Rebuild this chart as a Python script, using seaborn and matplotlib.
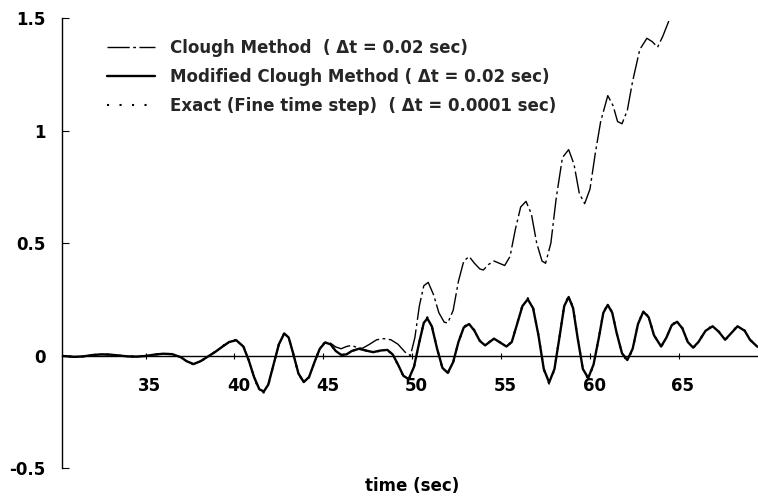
import numpy as np
import pandas as pd
import matplotlib
matplotlib.use("Agg")
import matplotlib.pyplot as plt
import matplotlib.transforms as mtrans
import seaborn as sns

# ---------------- data ----------------
time_modified = [30.0, 30.5, 31.0, 31.5, 32.0, 32.5, 33.0, 33.5, 34.0, 34.5, 35.0, 35.5,
                 36.0, 36.5, 37.0, 37.3, 37.7, 38.1, 38.5, 38.9, 39.3, 39.7, 40.1, 40.5,
                 40.8, 41.1, 41.4, 41.65, 41.9, 42.2, 42.5, 42.8, 43.05, 43.3, 43.6, 43.9,
                 44.2, 44.5, 44.8, 45.1, 45.4, 45.7, 46.0, 46.3, 46.6, 47.0, 47.4, 47.8,
                 48.2, 48.6, 48.9, 49.2, 49.5, 49.8, 50.1, 50.4, 50.65, 50.85, 51.1, 51.4,
                 51.7, 52.0, 52.3, 52.6, 52.9, 53.2, 53.5, 53.8, 54.1, 54.35, 54.6, 54.9,
                 55.3, 55.6, 55.9, 56.2, 56.5, 56.8, 57.1, 57.4, 57.7, 58.0, 58.3, 58.55,
                 58.8, 59.05, 59.3, 59.6, 59.9, 60.2, 60.5, 60.75, 61.0, 61.25, 61.5, 61.8,
                 62.1, 62.4, 62.7, 63.0, 63.3, 63.6, 64.0, 64.3, 64.6, 64.9, 65.2, 65.5,
                 65.8, 66.1, 66.5, 66.9, 67.25, 67.6, 67.95, 68.3, 68.7, 69.0, 69.4, 69.5]
disp_modified = [0.000, -0.003, -0.006, -0.004, 0.002, 0.005, 0.004, 0.000, -0.004, -0.005, -0.002, 0.004,
                 0.008, 0.006, -0.008, -0.025, -0.038, -0.025, -0.005, 0.015, 0.038, 0.060, 0.068, 0.040,
                 -0.020, -0.095, -0.150, -0.160, -0.130, -0.040, 0.050, 0.098, 0.080, 0.010, -0.080, -0.118,
                 -0.095, -0.030, 0.030, 0.058, 0.050, 0.020, 0.003, 0.005, 0.020, 0.030, 0.022, 0.015,
                 0.022, 0.025, 0.005, -0.040, -0.090, -0.105, -0.050, 0.060, 0.145, 0.165, 0.130, 0.030,
                 -0.055, -0.077, -0.030, 0.060, 0.125, 0.140, 0.110, 0.065, 0.045, 0.060, 0.075, 0.060,
                 0.040, 0.060, 0.140, 0.220, 0.250, 0.210, 0.090, -0.060, -0.120, -0.060, 0.090, 0.220,
                 0.260, 0.210, 0.080, -0.060, -0.100, -0.040, 0.080, 0.190, 0.225, 0.190, 0.100, 0.010,
                 -0.020, 0.030, 0.140, 0.195, 0.170, 0.090, 0.040, 0.080, 0.135, 0.150, 0.120, 0.060,
                 0.035, 0.060, 0.110, 0.130, 0.105, 0.070, 0.100, 0.130, 0.110, 0.070, 0.040, 0.038]

disp_exact = [0.000, -0.003, -0.006, -0.004, 0.002, 0.005, 0.004, 0.000, -0.004, -0.005, -0.002, 0.004,
              0.008, 0.006, -0.008, -0.026, -0.040, -0.026, -0.005, 0.016, 0.040, 0.062, 0.070, 0.042,
              -0.020, -0.098, -0.155, -0.165, -0.133, -0.040, 0.052, 0.100, 0.082, 0.010, -0.082, -0.120,
              -0.097, -0.030, 0.031, 0.060, 0.052, 0.020, 0.002, 0.004, 0.020, 0.030, 0.022, 0.014,
              0.021, 0.024, 0.004, -0.042, -0.092, -0.108, -0.052, 0.060, 0.148, 0.170, 0.133, 0.030,
              -0.057, -0.080, -0.031, 0.060, 0.127, 0.143, 0.112, 0.066, 0.046, 0.061, 0.077, 0.061,
              0.040, 0.061, 0.142, 0.223, 0.255, 0.213, 0.090, -0.062, -0.125, -0.062, 0.091, 0.223,
              0.265, 0.213, 0.080, -0.062, -0.105, -0.042, 0.080, 0.192, 0.228, 0.192, 0.100, 0.008,
              -0.025, 0.028, 0.140, 0.198, 0.172, 0.090, 0.038, 0.080, 0.137, 0.153, 0.122, 0.060,
              0.033, 0.060, 0.112, 0.133, 0.106, 0.069, 0.101, 0.132, 0.111, 0.070, 0.040, 0.037]

time_clough = [30.0, 30.5, 31.0, 31.5, 32.0, 32.5, 33.0, 33.5, 34.0, 34.5, 35.0, 35.5,
               36.0, 36.5, 37.0, 37.3, 37.7, 38.1, 38.5, 38.9, 39.3, 39.7, 40.1, 40.5,
               40.8, 41.1, 41.4, 41.65, 41.9, 42.2, 42.5, 42.8, 43.05, 43.3, 43.6, 43.9,
               44.2, 44.5, 44.8, 45.1, 45.4, 45.7, 46.0, 46.3, 46.6, 46.9, 47.2, 47.6,
               48.0, 48.4, 48.8, 49.2, 49.6, 49.9, 50.15, 50.4, 50.65, 50.9, 51.2, 51.5,
               51.8, 52.0, 52.3, 52.6, 52.9, 53.2, 53.5, 53.8, 54.0, 54.3, 54.6, 54.9,
               55.2, 55.5, 55.8, 56.1, 56.4, 56.7, 57.0, 57.3, 57.5, 57.8, 58.1, 58.45,
               58.8, 59.1, 59.4, 59.7, 60.0, 60.3, 60.6, 61.0, 61.3, 61.55, 61.8, 62.1,
               62.4, 62.8, 63.2, 63.5, 63.8, 64.1, 64.5]
disp_clough = [0.000, -0.003, -0.006, -0.004, 0.002, 0.005, 0.004, 0.000, -0.004, -0.005, -0.002, 0.004,
               0.008, 0.006, -0.008, -0.025, -0.038, -0.025, -0.005, 0.015, 0.038, 0.060, 0.068, 0.040,
               -0.020, -0.095, -0.150, -0.160, -0.130, -0.040, 0.050, 0.098, 0.080, 0.010, -0.080, -0.118,
               -0.095, -0.030, 0.030, 0.058, 0.055, 0.038, 0.030, 0.040, 0.045, 0.035, 0.032, 0.050,
               0.070, 0.075, 0.070, 0.050, 0.015, 0.000, 0.080, 0.220, 0.310, 0.325, 0.270, 0.190,
               0.148, 0.145, 0.200, 0.330, 0.420, 0.440, 0.410, 0.385, 0.380, 0.405, 0.420, 0.410,
               0.400, 0.440, 0.560, 0.660, 0.685, 0.630, 0.500, 0.420, 0.410, 0.500, 0.700, 0.880,
               0.915, 0.850, 0.720, 0.675, 0.740, 0.900, 1.040, 1.155, 1.110, 1.040, 1.030, 1.090,
               1.220, 1.360, 1.410, 1.395, 1.370, 1.420, 1.500]

series_labels = ["Clough Method  ( \u0394t = 0.02 sec)",
                 "Modified Clough Method ( \u0394t = 0.02 sec)",
                 "Exact (Fine time step)  ( \u0394t = 0.0001 sec)"]
x_ticks = [35, 40, 45, 50, 55, 60, 65]
x_tick_labels = ["35", "40", "45", "50", "55", "60", "65"]
y_ticks = [-0.5, 0, 0.5, 1, 1.5]
y_tick_labels = ["-0.5", "0", "0.5", "1", "1.5"]
x_label = "time (sec)"

# ---------------- figure ----------------
sns.set_theme(style="white")
plt.rcParams["font.family"] = ["DejaVu Sans"]
plt.rcParams["font.weight"] = "bold"

fig = plt.figure(figsize=(7.58, 4.99), dpi=100)
ax = fig.add_axes([0.0818, 0.0621, 0.9182, 0.9018])

df_clough = pd.DataFrame({"t": time_clough, "v": disp_clough})
df_mod = pd.DataFrame({"t": time_modified, "v": disp_modified})
df_exact = pd.DataFrame({"t": time_modified, "v": disp_exact})

sns.lineplot(data=df_clough, x="t", y="v", ax=ax, color="black", linewidth=1.0,
             estimator=None, sort=True)
l_clough = ax.lines[-1]
l_clough.set_dashes((16, 2.5, 2, 2.5))

sns.lineplot(data=df_mod, x="t", y="v", ax=ax, color="black", linewidth=1.7,
             estimator=None, sort=True)
l_mod = ax.lines[-1]

sns.lineplot(data=df_exact, x="t", y="v", ax=ax, color="black", linewidth=1.5,
             estimator=None, sort=True)
l_exact = ax.lines[-1]
l_exact.set_dashes((1, 5))

ax.set_xlim(30.3, 69.45)
ax.set_ylim(-0.5, 1.5)

for s in ["top", "right"]:
    ax.spines[s].set_visible(False)
ax.spines["bottom"].set_position(("data", 0))
for s in ["bottom", "left"]:
    ax.spines[s].set_color("black")
    ax.spines[s].set_linewidth(1.0)

ax.set_xticks(x_ticks)
ax.set_xticklabels(x_tick_labels)
ax.set_yticks(y_ticks)
ax.set_yticklabels(y_tick_labels)
ax.tick_params(axis="x", bottom=True, direction="inout", length=5, width=0.8,
               pad=13, labelsize=12, colors="black")
ax.tick_params(axis="y", left=True, direction="in", length=5, width=0.8,
               pad=12, labelsize=12, colors="black")
shift = mtrans.ScaledTranslation(4 / 100, 0, fig.dpi_scale_trans)
for lab in ax.get_xticklabels():
    lab.set_transform(lab.get_transform() + shift)

ax.set_xlabel(x_label, fontsize=12, fontweight="bold", color="black")
ax.xaxis.set_label_coords(0.503, -0.04)
ax.xaxis.label.set_va("center")
ax.set_ylabel("")

leg = ax.legend([l_clough, l_mod, l_exact], series_labels, loc="upper left",
                bbox_to_anchor=(0.0647, 0.9536), frameon=False, fontsize=12,
                handlelength=2.9, handletextpad=0.9, labelspacing=0.67,
                borderpad=0, borderaxespad=0)
for t in leg.get_texts():
    t.set_fontweight("bold")

fig.savefig("out.png", dpi=100)
